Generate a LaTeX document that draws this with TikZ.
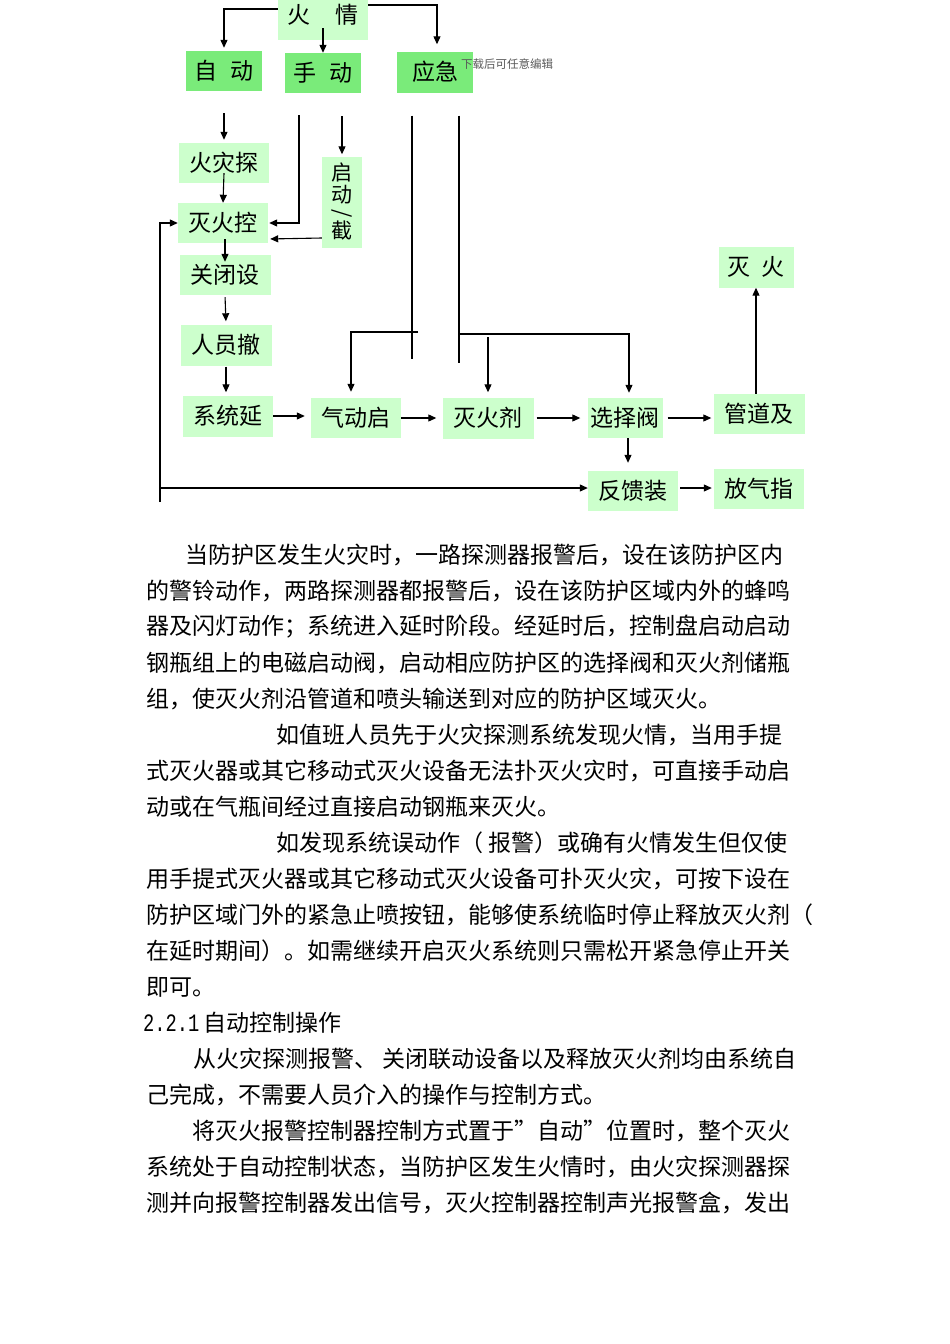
\documentclass[tikz,border=0pt]{standalone}
\usepackage{fontspec}
\newfontfamily\cjk{Noto Sans CJK SC}
\newfontfamily\numfont{Liberation Mono}
\usetikzlibrary{arrows.meta}
\definecolor{lightbox}{HTML}{CCFFCC}
\definecolor{modebox}{HTML}{7AEB7A}

\begin{document}
\begin{tikzpicture}[x=1pt, y=-1pt,
    box/.style={fill=lightbox, minimum width=90pt, minimum height=40pt, inner sep=0pt, font=\cjk\fontsize{23}{23}\selectfont},
    mode/.style={box, fill=modebox, minimum width=76pt},
    arrow/.style={line width=1.1pt, -{Triangle[length=8pt, width=7pt]}},
    wire/.style={line width=1.1pt},
    body/.style={anchor=west, inner sep=0pt, font=\cjk\fontsize{23}{23}\selectfont}
  ]
  \useasboundingbox (0,0) rectangle (950,1344);

  % Draw the boxes
  \node[box, minimum height=50pt] (fire) at (323,15) {火\hspace{25pt}情};
  \node[mode] (auto) at (224,71) {自\hspace{13pt}动};
  \node[mode] (manual) at (323,73) {手\hspace{13pt}动};
  \node[mode, minimum height=41pt] (emerg) at (435,72) {应急};
  \node[box] (detect) at (224,163) {火灾探};
  \node[box] (ctrl) at (223,223) {灭火控};
  \node[box, minimum width=40pt, minimum height=91pt, align=center,
        font=\cjk\fontsize{21}{22}\selectfont] (startstop) at (342,202)
        {启\\动\\[-5pt]\rotatebox[origin=c]{-90}{/}\\[-3pt]截};
  \node[box, minimum width=91pt] (close) at (225,275) {关闭设};
  \node[box, minimum width=91pt, minimum height=41pt] (evac) at (226,345) {人员撤};
  \node[box, minimum height=41pt] (delay) at (228,416) {系统延};
  \node[box] (pneu) at (356,418) {气动启};
  \node[box, minimum width=91pt, minimum height=41pt] (agent) at (488,418) {灭火剂};
  \node[box, minimum width=75pt] (valve) at (625,418) {选择阀};
  \node[box, minimum width=91pt] (pipe) at (759,414) {管道及};
  \node[box, minimum width=75pt, minimum height=41pt] (extinguish) at (756,267) {灭\hspace{11pt}火};
  \node[box] (feedback) at (633,491) {反馈装};
  \node[box] (vent) at (759,489) {放气指};
  \node[inner sep=0pt, anchor=west, text=black!65, font=\cjk\fontsize{11.5}{12}\selectfont] (mark) at (461,64) {下载后可任意编辑};

  % Draw the arrows
  \draw[arrow, shorten >=3pt] ([yshift=6pt]fire.west) -| (auto.north);
  \draw[arrow] ([yshift=12pt]fire.south) -- (manual.north);
  \draw[arrow, shorten >=7pt] ([yshift=10pt]fire.east) -| ([xshift=2pt]emerg.north);
  \draw[arrow, shorten <=22pt, shorten >=3pt] (auto.south) -- (detect.north);
  \draw[arrow, shorten >=1pt] ([xshift=-24pt, yshift=-22pt]manual.south) |- (ctrl.east);
  \draw[arrow, shorten >=2pt] ([xshift=19pt, yshift=-23pt]manual.south) -- (startstop.north);
  \draw[arrow, shorten >=2pt] ([yshift=-36pt]startstop.west) -- ([yshift=-16pt]ctrl.east);
  \draw[arrow] ([yshift=10pt]detect.south) -- (ctrl.north);
  \draw[arrow] ([xshift=2pt, yshift=4pt]ctrl.south) -- ([yshift=-7pt]close.north);
  \draw[arrow, shorten <=2pt, shorten >=3pt] (close.south) -- (evac.north);
  \draw[arrow, shorten <=1pt, shorten >=3pt] (evac.south) -- (evac.south |- delay.north);
  \draw[arrow, shorten >=6pt] (delay.east) -- (delay.east -| pneu.west);
  \draw[arrow, shorten >=6pt] (pneu.east) -- (pneu.east -| agent.west);
  \draw[arrow, shorten <=3pt, shorten >=7pt] (agent.east) -- (agent.east -| valve.west);
  \draw[arrow, shorten <=5pt, shorten >=2pt] (valve.east) -- (valve.east -| pipe.west);
  \draw[arrow] (extinguish.south |- pipe.north) -- (extinguish.south);
  \draw[arrow, shorten >=8pt] ([xshift=3pt]valve.south) -- ([xshift=3pt]valve.south |- feedback.north);
  \draw[arrow, shorten <=2pt, shorten >=2pt] ([yshift=3pt]feedback.east) -- ([yshift=3pt]feedback.east -| vent.west);

  % feedback loop back to the controller
  \coordinate (loop) at (160,502);
  \coordinate (fb) at ([yshift=3pt]feedback.west);
  \draw[arrow] (loop) |- (ctrl.west);
  \draw[arrow] (fb -| loop) -- (fb);

  % emergency start lines
  \draw[wire] ([xshift=-23pt, yshift=-23pt]emerg.south) -- ++(0,243);
  \draw[wire] ([xshift=24pt, yshift=-23pt]emerg.south) -- ++(0,247);
  \coordinate (eA) at (418,332);
  \coordinate (eB) at (459,334);
  \draw[arrow, shorten >=6pt] (eA) -| ([xshift=-5pt]pneu.north);
  \draw[arrow, shorten >=5pt] (eB) -| ([xshift=4pt]valve.north);
  \draw[arrow, shorten <=3pt, shorten >=5pt] (eB -| agent.north) -- (agent.north);

  % text below the chart
  \foreach \px/\py/\txt [count=\i] in {
      185/555/当防护区发生火灾时，一路探测器报警后，设在该防护区内,
      146/591/的警铃动作，两路探测器都报警后，设在该防护区域内外的蜂鸣,
      146/627/器及闪灯动作；系统进入延时阶段。经延时后，控制盘启动启动,
      146/663/钢瓶组上的电磁启动阀，启动相应防护区的选择阀和灭火剂储瓶,
      146/699/组，使灭火剂沿管道和喷头输送到对应的防护区域灭火。,
      276/735/如值班人员先于火灾探测系统发现火情，当用手提,
      146/771/式灭火器或其它移动式灭火设备无法扑灭火灾时，可直接手动启,
      146/807/动或在气瓶间经过直接启动钢瓶来灭火。,
      276/843/如发现系统误动作（ 报警）或确有火情发生但仅使,
      146/879/用手提式灭火器或其它移动式灭火设备可扑灭火灾，可按下设在,
      146/915/防护区域门外的紧急止喷按钮，能够使系统临时停止释放灭火剂（,
      146/951/在延时期间）。如需继续开启灭火系统则只需松开紧急停止开关,
      146/987/即可。,
      193/1059/从火灾探测报警、 关闭联动设备以及释放灭火剂均由系统自,
      146/1095/己完成，不需要人员介入的操作与控制方式。,
      192/1131/将灭火报警控制器控制方式置于”自动”位置时，整个灭火,
      146/1167/系统处于自动控制状态，当防护区发生火情时，由火灾探测器探,
      146/1203/测并向报警控制器发出信号，灭火控制器控制声光报警盒，发出}
    \node[body] (line\i) at (\px,\py) {\txt};
  \node[body] (heading) at (143,1023) {\scalebox{0.75}[1]{\numfont\fontsize{25}{25}\selectfont 2.2.1}\hspace{4pt}自动控制操作};

\end{tikzpicture}
\end{document}
